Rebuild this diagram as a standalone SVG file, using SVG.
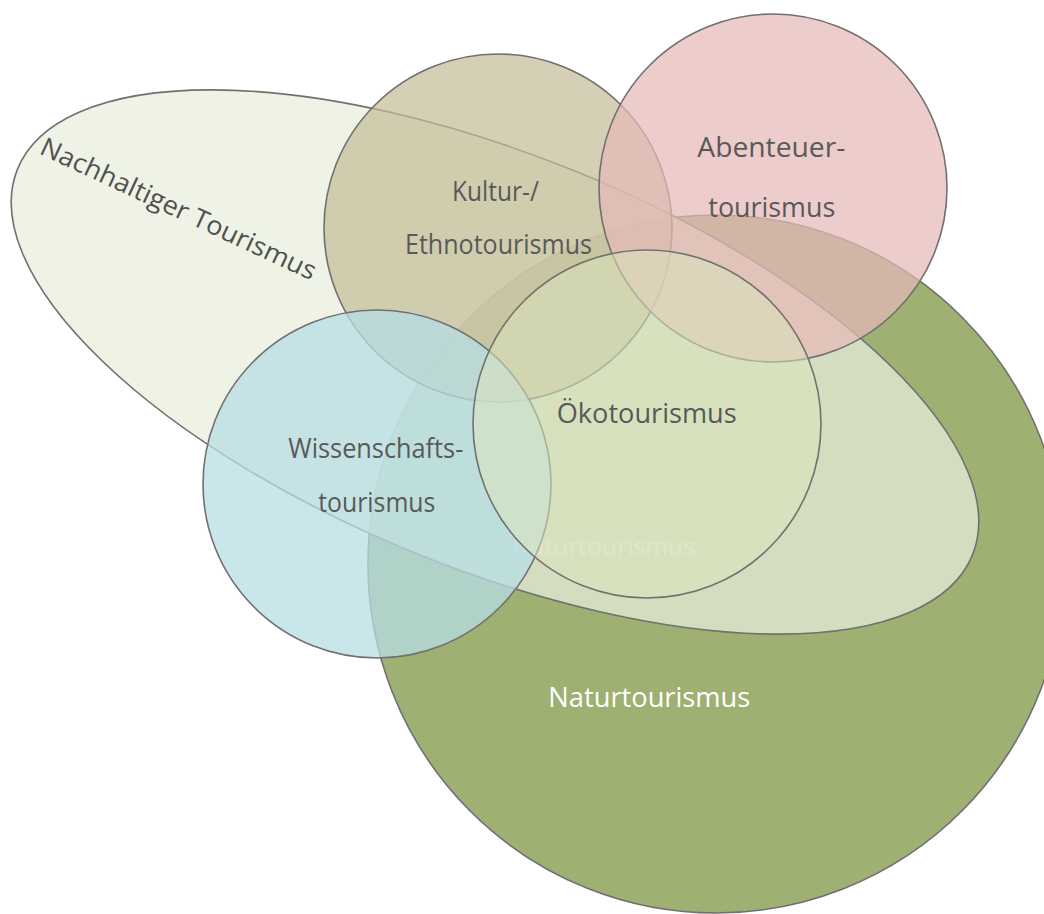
<svg xmlns="http://www.w3.org/2000/svg" width="1044" height="914" viewBox="0 0 1044 914">
<style>
.shape{stroke:#707070;stroke-width:1.6}
.lbl{font-family:"Open Sans","Noto Sans","Liberation Sans",sans-serif;font-size:28px;fill:#595959}
</style>
<rect width="1044" height="914" fill="#ffffff"/>
<g id="naturtourismus">
<ellipse class="shape" cx="716" cy="564" rx="348" ry="349" fill="#9fb073"/>
<text class="lbl" x="512" y="555" textLength="183" lengthAdjust="spacingAndGlyphs" style="fill:#ffffff;fill-opacity:0.6;font-size:23px">Naturtourismus</text>
</g>
<g id="nachhaltiger-tourismus">
<ellipse class="shape" cx="495" cy="362" rx="515" ry="207" transform="rotate(22 495 362)" fill="#e9eedc" fill-opacity="0.72" stroke="#777777" stroke-width="1.4"/>
</g>
<g id="kultur-ethnotourismus">
<circle class="shape" cx="498" cy="228" r="174" fill="#c3ba95" fill-opacity="0.7"/>
</g>
<g id="wissenschaftstourismus">
<circle class="shape" cx="377" cy="484" r="174" fill="#b7dde4" fill-opacity="0.75"/>
</g>
<g id="abenteuertourismus">
<circle class="shape" cx="773" cy="188" r="174" fill="#e6b8b8" fill-opacity="0.72"/>
</g>
<g id="oekotourismus">
<circle class="shape" cx="647" cy="424" r="174" fill="#dae4bb" fill-opacity="0.55"/>
</g>
<g id="labels">
<text class="lbl" x="452" y="200.7" textLength="87" lengthAdjust="spacingAndGlyphs">Kultur-/</text>
<text class="lbl" x="405" y="254" textLength="187" lengthAdjust="spacingAndGlyphs">Ethnotourismus</text>
<text class="lbl" x="697.3" y="157" textLength="148" lengthAdjust="spacingAndGlyphs">Abenteuer-</text>
<text class="lbl" x="708.3" y="217" textLength="127" lengthAdjust="spacingAndGlyphs">tourismus</text>
<text class="lbl" x="288.3" y="457.5" textLength="175" lengthAdjust="spacingAndGlyphs">Wissenschafts-</text>
<text class="lbl" x="318.3" y="511.7" textLength="117" lengthAdjust="spacingAndGlyphs">tourismus</text>
<text class="lbl" x="556.7" y="423.3" textLength="180" lengthAdjust="spacingAndGlyphs">Ökotourismus</text>
<text class="lbl" x="548.3" y="707" textLength="202" lengthAdjust="spacingAndGlyphs" style="fill:#ffffff">Naturtourismus</text>
<text class="lbl" x="38.3" y="153.3" textLength="301" lengthAdjust="spacingAndGlyphs" transform="rotate(25 38.3 153.3)" style="font-size:26px;fill:#505050">Nachhaltiger Tourismus</text>
</g>
</svg>
